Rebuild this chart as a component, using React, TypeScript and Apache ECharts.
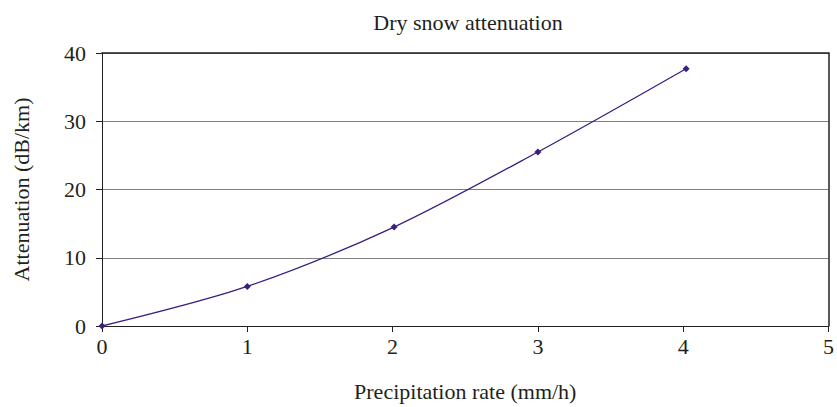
import React, { useEffect, useRef } from "react";
import * as echarts from "echarts";

const title = "Dry snow attenuation";
const xName = "Precipitation rate (mm/h)";
const yName = "Attenuation (dB/km)";
const rate = [0, 1, 2.01, 3, 4.02];
const attenuation = [0, 5.8, 14.5, 25.5, 37.7];

export default function App() {
  const ref = useRef<HTMLDivElement>(null);
  useEffect(() => {
    document.body.style.margin = "0";
    const chart = echarts.init(ref.current!, null, { renderer: "svg" });
    const font = "Liberation Serif";
    const dark = "#231f20";
    chart.setOption({
      animation: false,
      backgroundColor: "#ffffff",
      title: {
        text: title,
        left: 463,
        textAlign: "center",
        top: 6,
        textStyle: { fontFamily: font, fontSize: 22, fontWeight: "normal", color: dark },
      },
      grid: { left: 102, top: 53, right: 5, bottom: 81, containLabel: false },
      xAxis: [
        {
          type: "value",
          min: 0,
          max: 5,
          interval: 1,
          name: xName,
          nameLocation: "middle",
          nameGap: 54,
          nameTextStyle: { fontFamily: font, fontSize: 22, color: dark },
          axisLine: { show: true, lineStyle: { color: dark, width: 1 } },
          axisTick: { show: true, length: 6, lineStyle: { color: dark } },
          axisLabel: { fontFamily: font, fontSize: 22, color: dark, margin: 9 },
          splitLine: { show: false },
        },
        {
          type: "value",
          position: "top",
          min: 0,
          max: 5,
          axisLine: { show: true, onZero: false, lineStyle: { color: dark, width: 1.5 } },
          axisTick: { show: false },
          axisLabel: { show: false },
          splitLine: { show: false },
        },
      ],
      yAxis: [
        {
          type: "value",
          min: 0,
          max: 40,
          interval: 10,
          name: yName,
          nameLocation: "middle",
          nameGap: 70,
          nameRotate: 90,
          nameTextStyle: { fontFamily: font, fontSize: 22, color: dark },
          axisLine: { show: true, lineStyle: { color: dark, width: 1 } },
          axisTick: { show: true, length: 6, lineStyle: { color: dark } },
          axisLabel: { fontFamily: font, fontSize: 22, color: dark, margin: 16 },
          splitLine: { show: true, lineStyle: { color: "#808080", width: 1 } },
        },
        {
          type: "value",
          position: "right",
          min: 0,
          max: 40,
          axisLine: { show: true, onZero: false, lineStyle: { color: dark, width: 1.5 } },
          axisTick: { show: false },
          axisLabel: { show: false },
          splitLine: { show: false },
        },
      ],
      series: [
        {
          type: "line",
          data: rate.map((x, i) => [x, attenuation[i]]),
          smooth: 0.3,
          symbol: "diamond",
          symbolSize: 7,
          lineStyle: { color: "#3b1f7e", width: 1.3 },
          itemStyle: { color: "#3b1f7e" },
        },
      ],
    });
    return () => chart.dispose();
  }, []);
  return <div ref={ref} style={{ width: 837, height: 407 }} />;
}
